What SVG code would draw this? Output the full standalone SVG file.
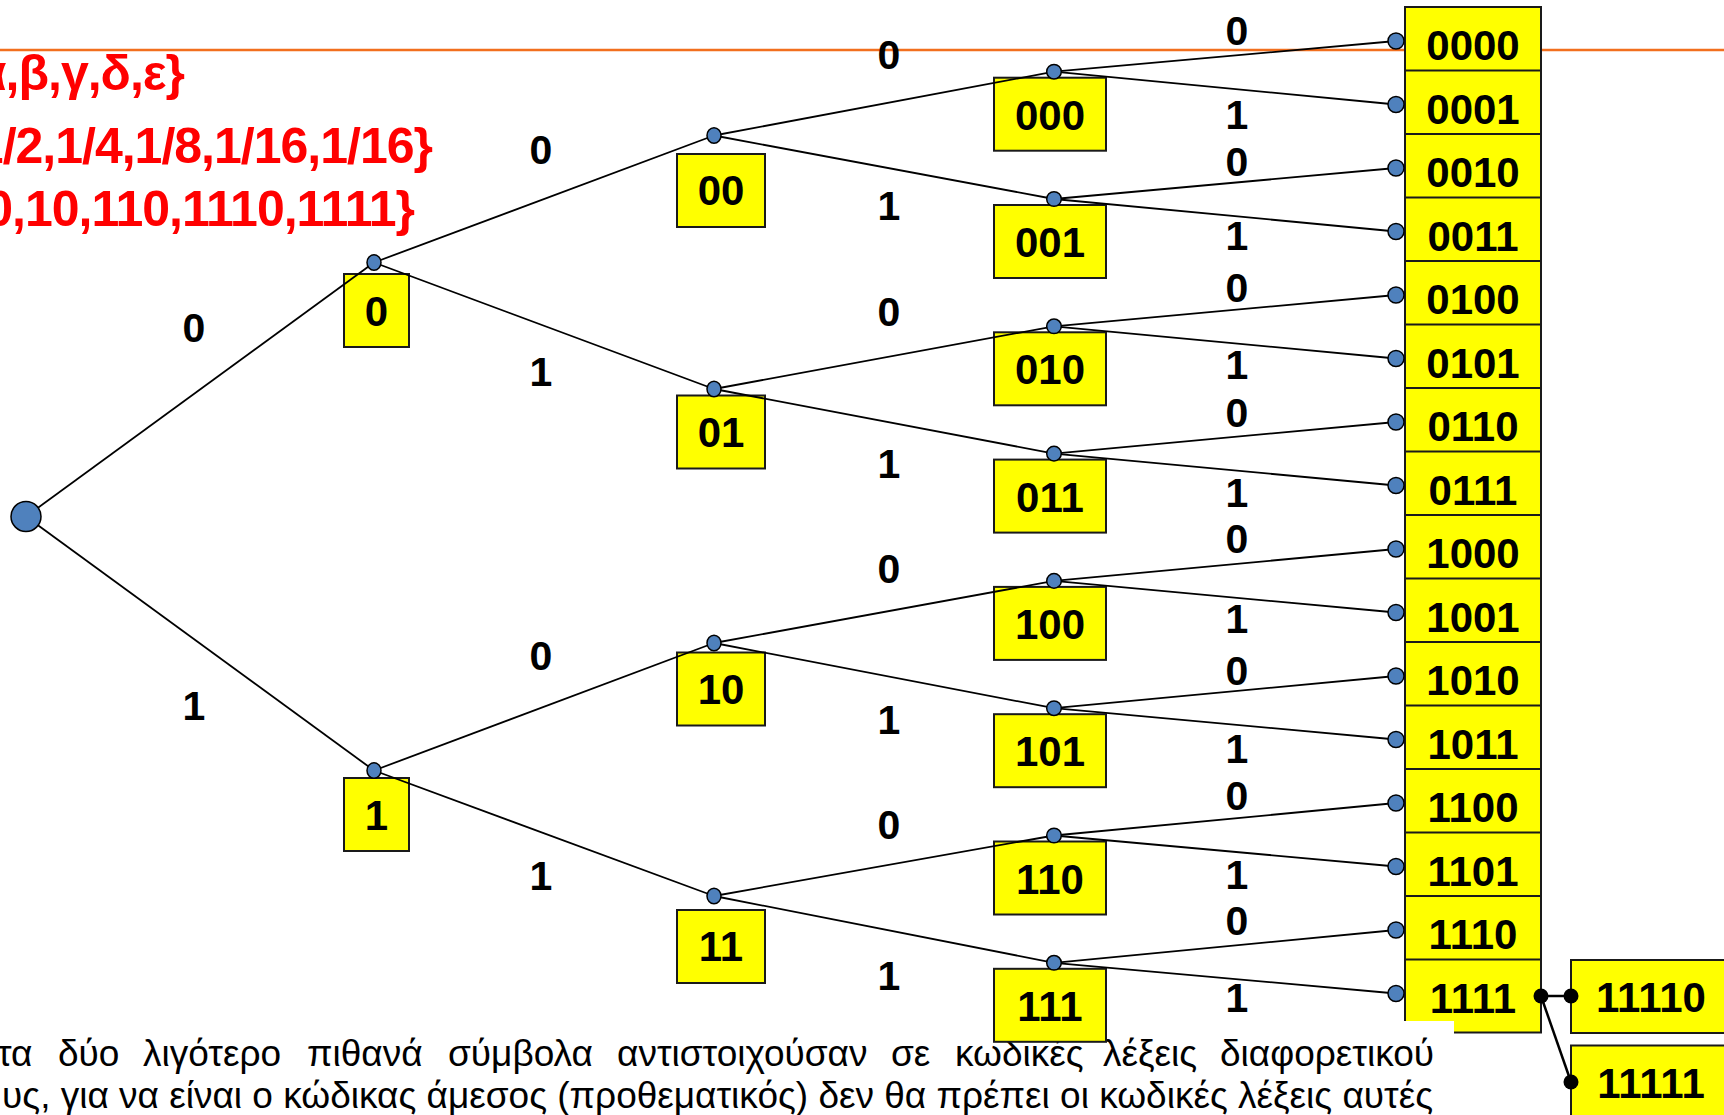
<svg xmlns="http://www.w3.org/2000/svg" width="1724" height="1115" viewBox="0 0 1724 1115">
<style>
.box{fill:#FFFF00;stroke:#1a1a1a;stroke-width:2}
.bt{font-family:"Liberation Sans",Arial,sans-serif;font-weight:bold;font-size:42px;text-anchor:middle;fill:#000}
.lbl{font-family:"Liberation Sans",Arial,sans-serif;font-weight:bold;font-size:41px;text-anchor:middle;fill:#000}
.dot{fill:#4F81BD;stroke:#000;stroke-width:1.5}
.bdot{fill:#000}
.edge{stroke:#000;stroke-width:1.8;fill:none}
.red{font-family:"Liberation Sans",Arial,sans-serif;font-weight:bold;font-size:50px;fill:#FF0000;text-anchor:end;letter-spacing:-1px}
.para{font-family:"Liberation Sans",Arial,sans-serif;font-size:37px;fill:#000}
</style>
<rect x="0" y="0" width="1724" height="1115" fill="#fff"/>
<line x1="0" y1="50" x2="1724" y2="50" stroke="#F26F1E" stroke-width="2.5"/>

<g id="red-text">
<text class="red" x="184" y="90">{α,β,γ,δ,ε}</text>
<text class="red" x="432" y="163">{1/2,1/4,1/8,1/16,1/16}</text>
<text class="red" x="414" y="226">{0,10,110,1110,1111}</text>
</g>

<g id="leaves">
<g id="n0000"><rect class="box" x="1405" y="7" width="136" height="73"/><text class="bt" x="1473" y="60">0000</text></g>
<g id="n0001"><rect class="box" x="1405" y="70.5" width="136" height="73"/><text class="bt" x="1473" y="123.5">0001</text></g>
<g id="n0010"><rect class="box" x="1405" y="134" width="136" height="73"/><text class="bt" x="1473" y="187">0010</text></g>
<g id="n0011"><rect class="box" x="1405" y="197.5" width="136" height="73"/><text class="bt" x="1473" y="250.5">0011</text></g>
<g id="n0100"><rect class="box" x="1405" y="261" width="136" height="73"/><text class="bt" x="1473" y="314">0100</text></g>
<g id="n0101"><rect class="box" x="1405" y="324.5" width="136" height="73"/><text class="bt" x="1473" y="377.5">0101</text></g>
<g id="n0110"><rect class="box" x="1405" y="388" width="136" height="73"/><text class="bt" x="1473" y="441">0110</text></g>
<g id="n0111"><rect class="box" x="1405" y="451.5" width="136" height="73"/><text class="bt" x="1473" y="504.5">0111</text></g>
<g id="n1000"><rect class="box" x="1405" y="515" width="136" height="73"/><text class="bt" x="1473" y="568">1000</text></g>
<g id="n1001"><rect class="box" x="1405" y="578.5" width="136" height="73"/><text class="bt" x="1473" y="631.5">1001</text></g>
<g id="n1010"><rect class="box" x="1405" y="642" width="136" height="73"/><text class="bt" x="1473" y="695">1010</text></g>
<g id="n1011"><rect class="box" x="1405" y="705.5" width="136" height="73"/><text class="bt" x="1473" y="758.5">1011</text></g>
<g id="n1100"><rect class="box" x="1405" y="769" width="136" height="73"/><text class="bt" x="1473" y="822">1100</text></g>
<g id="n1101"><rect class="box" x="1405" y="832.5" width="136" height="73"/><text class="bt" x="1473" y="885.5">1101</text></g>
<g id="n1110"><rect class="box" x="1405" y="896" width="136" height="73"/><text class="bt" x="1473" y="949">1110</text></g>
<g id="n1111"><rect class="box" x="1405" y="959.5" width="136" height="73"/><text class="bt" x="1473" y="1012.5">1111</text></g>
</g>

<g id="paragraph">
<rect x="0" y="1021" width="1454" height="94" fill="#fff"/>
<text class="para" y="1066"><tspan x="-3">τα</tspan><tspan x="58">δύο</tspan><tspan x="143">λιγότερο</tspan><tspan x="307">πιθανά</tspan><tspan x="448">σύμβολα</tspan><tspan x="617">αντιστοιχούσαν</tspan><tspan x="891">σε</tspan><tspan x="955">κωδικές</tspan><tspan x="1103">λέξεις</tspan><tspan x="1220">διαφορετικού</tspan></text>
<text class="para" x="1433" y="1108" text-anchor="end">υς, για να είναι ο κώδικας άμεσος (προθεματικός) δεν θα πρέπει οι κωδικές λέξεις αυτές</text>
</g>

<g id="n11110"><rect class="box" x="1571" y="960" width="160" height="73"/><text class="bt" x="1651" y="1012">11110</text></g>
<g id="n11111"><rect class="box" x="1571" y="1045.5" width="160" height="73"/><text class="bt" x="1651" y="1097.5">11111</text></g>

<g id="internal">
<g id="n0"><rect class="box" x="344" y="274" width="65" height="73"/><text class="bt" x="376.5" y="326">0</text></g>
<g id="n1"><rect class="box" x="344" y="778" width="65" height="73"/><text class="bt" x="376.5" y="830">1</text></g>
<g id="n00"><rect class="box" x="677" y="154" width="88" height="73"/><text class="bt" x="721" y="205">00</text></g>
<g id="n01"><rect class="box" x="677" y="395.5" width="88" height="73"/><text class="bt" x="721" y="446.5">01</text></g>
<g id="n10"><rect class="box" x="677" y="652.5" width="88" height="73"/><text class="bt" x="721" y="703.5">10</text></g>
<g id="n11"><rect class="box" x="677" y="910" width="88" height="73"/><text class="bt" x="721" y="961">11</text></g>
<g id="n000"><rect class="box" x="994" y="77.7" width="112" height="73"/><text class="bt" x="1050" y="129.7">000</text></g>
<g id="n001"><rect class="box" x="994" y="205" width="112" height="73"/><text class="bt" x="1050" y="257">001</text></g>
<g id="n010"><rect class="box" x="994" y="332.3" width="112" height="73"/><text class="bt" x="1050" y="384.3">010</text></g>
<g id="n011"><rect class="box" x="994" y="459.6" width="112" height="73"/><text class="bt" x="1050" y="511.6">011</text></g>
<g id="n100"><rect class="box" x="994" y="586.9" width="112" height="73"/><text class="bt" x="1050" y="638.9">100</text></g>
<g id="n101"><rect class="box" x="994" y="714.2" width="112" height="73"/><text class="bt" x="1050" y="766.2">101</text></g>
<g id="n110"><rect class="box" x="994" y="841.5" width="112" height="73"/><text class="bt" x="1050" y="893.5">110</text></g>
<g id="n111"><rect class="box" x="994" y="968.8" width="112" height="73"/><text class="bt" x="1050" y="1020.8">111</text></g>
</g>

<g id="connectors">
<g class="edge">
<line x1="26" y1="516.5" x2="374" y2="262.5"/>
<line x1="26" y1="516.5" x2="374" y2="770.5"/>
<line x1="374" y1="262.5" x2="714" y2="135.5"/>
<line x1="374" y1="262.5" x2="714" y2="389"/>
<line x1="374" y1="770.5" x2="714" y2="643"/>
<line x1="374" y1="770.5" x2="714" y2="896"/>
<line x1="714" y1="135.5" x2="1054" y2="71.7"/>
<line x1="714" y1="135.5" x2="1054" y2="199"/>
<line x1="714" y1="389" x2="1054" y2="326.3"/>
<line x1="714" y1="389" x2="1054" y2="453.6"/>
<line x1="714" y1="643" x2="1054" y2="580.9"/>
<line x1="714" y1="643" x2="1054" y2="708.2"/>
<line x1="714" y1="896" x2="1054" y2="835.5"/>
<line x1="714" y1="896" x2="1054" y2="962.8"/>
<line x1="1054" y1="71.7" x2="1396" y2="41"/>
<line x1="1054" y1="71.7" x2="1396" y2="104.5"/>
<line x1="1054" y1="199" x2="1396" y2="168"/>
<line x1="1054" y1="199" x2="1396" y2="231.5"/>
<line x1="1054" y1="326.3" x2="1396" y2="295"/>
<line x1="1054" y1="326.3" x2="1396" y2="358.5"/>
<line x1="1054" y1="453.6" x2="1396" y2="422"/>
<line x1="1054" y1="453.6" x2="1396" y2="485.5"/>
<line x1="1054" y1="580.9" x2="1396" y2="549"/>
<line x1="1054" y1="580.9" x2="1396" y2="612.5"/>
<line x1="1054" y1="708.2" x2="1396" y2="676"/>
<line x1="1054" y1="708.2" x2="1396" y2="739.5"/>
<line x1="1054" y1="835.5" x2="1396" y2="803"/>
<line x1="1054" y1="835.5" x2="1396" y2="866.5"/>
<line x1="1054" y1="962.8" x2="1396" y2="930"/>
<line x1="1054" y1="962.8" x2="1396" y2="993.5"/>
</g>
<g stroke="#000" stroke-width="2.5">
<line x1="1541" y1="996" x2="1571" y2="996"/>
<line x1="1541" y1="996" x2="1571" y2="1082"/>
</g>
<g class="lbl">
<text x="194" y="342">0</text>
<text x="194" y="720">1</text>
<text x="541" y="164">0</text>
<text x="541" y="386">1</text>
<text x="541" y="670">0</text>
<text x="541" y="890">1</text>
<text x="889" y="69">0</text>
<text x="889" y="220">1</text>
<text x="889" y="325.5">0</text>
<text x="889" y="477.5">1</text>
<text x="889" y="583">0</text>
<text x="889" y="733.5">1</text>
<text x="889" y="839">0</text>
<text x="889" y="990">1</text>
<text x="1237" y="44.5">0</text>
<text x="1237" y="129">1</text>
<text x="1237" y="175.5">0</text>
<text x="1237" y="250">1</text>
<text x="1237" y="302">0</text>
<text x="1237" y="379">1</text>
<text x="1237" y="427">0</text>
<text x="1237" y="507">1</text>
<text x="1237" y="552.5">0</text>
<text x="1237" y="633">1</text>
<text x="1237" y="685">0</text>
<text x="1237" y="763">1</text>
<text x="1237" y="810">0</text>
<text x="1237" y="889">1</text>
<text x="1237" y="935">0</text>
<text x="1237" y="1012">1</text>
</g>
</g>

<g id="junctions">
<circle class="dot" cx="26" cy="516.5" r="15"/>
<ellipse class="dot" cx="374" cy="262.5" rx="7" ry="7.7"/>
<ellipse class="dot" cx="374" cy="770.5" rx="7" ry="7.7"/>
<ellipse class="dot" cx="714" cy="135.5" rx="7" ry="7.7"/>
<ellipse class="dot" cx="714" cy="389" rx="7" ry="7.7"/>
<ellipse class="dot" cx="714" cy="643" rx="7" ry="7.7"/>
<ellipse class="dot" cx="714" cy="896" rx="7" ry="7.7"/>
<ellipse class="dot" cx="1054" cy="71.7" rx="7.3" ry="7.3"/>
<ellipse class="dot" cx="1054" cy="199" rx="7.3" ry="7.3"/>
<ellipse class="dot" cx="1054" cy="326.3" rx="7.3" ry="7.3"/>
<ellipse class="dot" cx="1054" cy="453.6" rx="7.3" ry="7.3"/>
<ellipse class="dot" cx="1054" cy="580.9" rx="7.3" ry="7.3"/>
<ellipse class="dot" cx="1054" cy="708.2" rx="7.3" ry="7.3"/>
<ellipse class="dot" cx="1054" cy="835.5" rx="7.3" ry="7.3"/>
<ellipse class="dot" cx="1054" cy="962.8" rx="7.3" ry="7.3"/>
<circle class="dot" cx="1396" cy="41" r="8"/>
<circle class="dot" cx="1396" cy="104.5" r="8"/>
<circle class="dot" cx="1396" cy="168" r="8"/>
<circle class="dot" cx="1396" cy="231.5" r="8"/>
<circle class="dot" cx="1396" cy="295" r="8"/>
<circle class="dot" cx="1396" cy="358.5" r="8"/>
<circle class="dot" cx="1396" cy="422" r="8"/>
<circle class="dot" cx="1396" cy="485.5" r="8"/>
<circle class="dot" cx="1396" cy="549" r="8"/>
<circle class="dot" cx="1396" cy="612.5" r="8"/>
<circle class="dot" cx="1396" cy="676" r="8"/>
<circle class="dot" cx="1396" cy="739.5" r="8"/>
<circle class="dot" cx="1396" cy="803" r="8"/>
<circle class="dot" cx="1396" cy="866.5" r="8"/>
<circle class="dot" cx="1396" cy="930" r="8"/>
<circle class="dot" cx="1396" cy="993.5" r="8"/>
<circle class="bdot" cx="1541" cy="996" r="7.5"/>
<circle class="bdot" cx="1571" cy="996" r="7.5"/>
<circle class="bdot" cx="1571" cy="1082" r="7.5"/>
</g>
</svg>
